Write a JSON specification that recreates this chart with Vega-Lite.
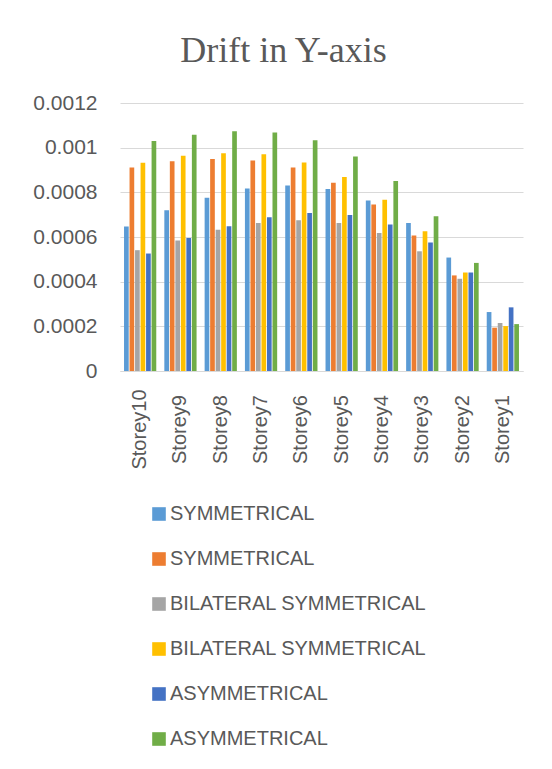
{
  "$schema": "https://vega.github.io/schema/vega-lite/v6.json",
  "autosize": {"type": "none"},
  "padding": {"left": 120, "top": 103, "right": 29, "bottom": 398},
  "width": 403,
  "height": 268,
  "background": "white",
  "title": {
    "text": "Drift in Y-axis",
    "font": "Liberation Serif",
    "fontSize": 36,
    "fontWeight": "normal",
    "color": "#595959",
    "anchor": "middle",
    "frame": "group",
    "baseline": "alphabetic",
    "offset": 0,
    "dx": -38,
    "dy": 6
  },
  "data": {
    "values": [
      {"storey": "Storey10", "series": "1|SYMMETRICAL", "value": 0.000647},
      {"storey": "Storey10", "series": "2|SYMMETRICAL", "value": 0.000911},
      {"storey": "Storey10", "series": "3|BILATERAL SYMMETRICAL", "value": 0.000541},
      {"storey": "Storey10", "series": "4|BILATERAL SYMMETRICAL", "value": 0.000933},
      {"storey": "Storey10", "series": "5|ASYMMETRICAL", "value": 0.000526},
      {"storey": "Storey10", "series": "6|ASYMMETRICAL", "value": 0.00103},
      {"storey": "Storey9", "series": "1|SYMMETRICAL", "value": 0.00072},
      {"storey": "Storey9", "series": "2|SYMMETRICAL", "value": 0.000939},
      {"storey": "Storey9", "series": "3|BILATERAL SYMMETRICAL", "value": 0.000584},
      {"storey": "Storey9", "series": "4|BILATERAL SYMMETRICAL", "value": 0.000964},
      {"storey": "Storey9", "series": "5|ASYMMETRICAL", "value": 0.000596},
      {"storey": "Storey9", "series": "6|ASYMMETRICAL", "value": 0.001058},
      {"storey": "Storey8", "series": "1|SYMMETRICAL", "value": 0.000776},
      {"storey": "Storey8", "series": "2|SYMMETRICAL", "value": 0.000949},
      {"storey": "Storey8", "series": "3|BILATERAL SYMMETRICAL", "value": 0.000632},
      {"storey": "Storey8", "series": "4|BILATERAL SYMMETRICAL", "value": 0.000975},
      {"storey": "Storey8", "series": "5|ASYMMETRICAL", "value": 0.000648},
      {"storey": "Storey8", "series": "6|ASYMMETRICAL", "value": 0.001073},
      {"storey": "Storey7", "series": "1|SYMMETRICAL", "value": 0.000817},
      {"storey": "Storey7", "series": "2|SYMMETRICAL", "value": 0.000942},
      {"storey": "Storey7", "series": "3|BILATERAL SYMMETRICAL", "value": 0.000663},
      {"storey": "Storey7", "series": "4|BILATERAL SYMMETRICAL", "value": 0.00097},
      {"storey": "Storey7", "series": "5|ASYMMETRICAL", "value": 0.000688},
      {"storey": "Storey7", "series": "6|ASYMMETRICAL", "value": 0.001068},
      {"storey": "Storey6", "series": "1|SYMMETRICAL", "value": 0.000831},
      {"storey": "Storey6", "series": "2|SYMMETRICAL", "value": 0.000911},
      {"storey": "Storey6", "series": "3|BILATERAL SYMMETRICAL", "value": 0.000675},
      {"storey": "Storey6", "series": "4|BILATERAL SYMMETRICAL", "value": 0.000934},
      {"storey": "Storey6", "series": "5|ASYMMETRICAL", "value": 0.000708},
      {"storey": "Storey6", "series": "6|ASYMMETRICAL", "value": 0.001033},
      {"storey": "Storey5", "series": "1|SYMMETRICAL", "value": 0.000815},
      {"storey": "Storey5", "series": "2|SYMMETRICAL", "value": 0.000843},
      {"storey": "Storey5", "series": "3|BILATERAL SYMMETRICAL", "value": 0.000663},
      {"storey": "Storey5", "series": "4|BILATERAL SYMMETRICAL", "value": 0.000869},
      {"storey": "Storey5", "series": "5|ASYMMETRICAL", "value": 0.000699},
      {"storey": "Storey5", "series": "6|ASYMMETRICAL", "value": 0.000961},
      {"storey": "Storey4", "series": "1|SYMMETRICAL", "value": 0.000763},
      {"storey": "Storey4", "series": "2|SYMMETRICAL", "value": 0.000745},
      {"storey": "Storey4", "series": "3|BILATERAL SYMMETRICAL", "value": 0.000618},
      {"storey": "Storey4", "series": "4|BILATERAL SYMMETRICAL", "value": 0.000767},
      {"storey": "Storey4", "series": "5|ASYMMETRICAL", "value": 0.000656},
      {"storey": "Storey4", "series": "6|ASYMMETRICAL", "value": 0.000851},
      {"storey": "Storey3", "series": "1|SYMMETRICAL", "value": 0.000663},
      {"storey": "Storey3", "series": "2|SYMMETRICAL", "value": 0.000607},
      {"storey": "Storey3", "series": "3|BILATERAL SYMMETRICAL", "value": 0.000536},
      {"storey": "Storey3", "series": "4|BILATERAL SYMMETRICAL", "value": 0.000626},
      {"storey": "Storey3", "series": "5|ASYMMETRICAL", "value": 0.000575},
      {"storey": "Storey3", "series": "6|ASYMMETRICAL", "value": 0.000693},
      {"storey": "Storey2", "series": "1|SYMMETRICAL", "value": 0.000508},
      {"storey": "Storey2", "series": "2|SYMMETRICAL", "value": 0.000428},
      {"storey": "Storey2", "series": "3|BILATERAL SYMMETRICAL", "value": 0.000413},
      {"storey": "Storey2", "series": "4|BILATERAL SYMMETRICAL", "value": 0.000441},
      {"storey": "Storey2", "series": "5|ASYMMETRICAL", "value": 0.000441},
      {"storey": "Storey2", "series": "6|ASYMMETRICAL", "value": 0.000484},
      {"storey": "Storey1", "series": "1|SYMMETRICAL", "value": 0.000264},
      {"storey": "Storey1", "series": "2|SYMMETRICAL", "value": 0.000194},
      {"storey": "Storey1", "series": "3|BILATERAL SYMMETRICAL", "value": 0.000215},
      {"storey": "Storey1", "series": "4|BILATERAL SYMMETRICAL", "value": 0.000201},
      {"storey": "Storey1", "series": "5|ASYMMETRICAL", "value": 0.000285},
      {"storey": "Storey1", "series": "6|ASYMMETRICAL", "value": 0.00021}
    ]
  },
  "mark": {"type": "bar"},
  "encoding": {
    "x": {
      "field": "storey",
      "type": "nominal",
      "sort": ["Storey10", "Storey9", "Storey8", "Storey7", "Storey6", "Storey5", "Storey4", "Storey3", "Storey2", "Storey1"],
      "scale": {"paddingInner": 0.2, "paddingOuter": 0.1},
      "axis": {
        "title": null,
        "labelAngle": -90,
        "labelAlign": "center",
        "labelBaseline": "middle",
        "labelPadding": 58,
        "labelFont": "Liberation Sans",
        "labelFontSize": 20,
        "labelColor": "#595959",
        "ticks": false,
        "domain": true,
        "domainColor": "#D9D9D9",
        "domainWidth": 1
      }
    },
    "xOffset": {
      "field": "series",
      "type": "nominal",
      "sort": ["1|SYMMETRICAL", "2|SYMMETRICAL", "3|BILATERAL SYMMETRICAL", "4|BILATERAL SYMMETRICAL", "5|ASYMMETRICAL", "6|ASYMMETRICAL"],
      "scale": {"paddingInner": 0.15, "paddingOuter": 0}
    },
    "y": {
      "field": "value",
      "type": "quantitative",
      "scale": {"domain": [0, 0.0012], "nice": false},
      "axis": {
        "title": null,
        "values": [0, 0.0002, 0.0004, 0.0006, 0.0008, 0.001, 0.0012],
        "format": ".4~f",
        "labelFont": "Liberation Sans",
        "labelFontSize": 21,
        "labelColor": "#595959",
        "labelPadding": 23,
        "ticks": false,
        "domain": false,
        "gridColor": "#D9D9D9",
        "gridWidth": 1
      }
    },
    "color": {
      "field": "series",
      "type": "nominal",
      "scale": {
        "domain": ["1|SYMMETRICAL", "2|SYMMETRICAL", "3|BILATERAL SYMMETRICAL", "4|BILATERAL SYMMETRICAL", "5|ASYMMETRICAL", "6|ASYMMETRICAL"],
        "range": ["#5B9BD5", "#ED7D31", "#A5A5A5", "#FFC000", "#4472C4", "#70AD47"]
      },
      "legend": {
        "title": null,
        "orient": "none",
        "legendX": 29,
        "legendY": 401,
        "direction": "vertical",
        "symbolType": "square",
        "symbolSize": 185,
        "symbolStrokeWidth": 0,
        "labelExpr": "slice(datum.label, 2)",
        "labelFont": "Liberation Sans",
        "labelFontSize": 20,
        "labelColor": "#595959",
        "labelOffset": 1,
        "labelLimit": 400,
        "rowPadding": 25
      }
    }
  },
  "config": {
    "view": {"stroke": null}
  }
}
